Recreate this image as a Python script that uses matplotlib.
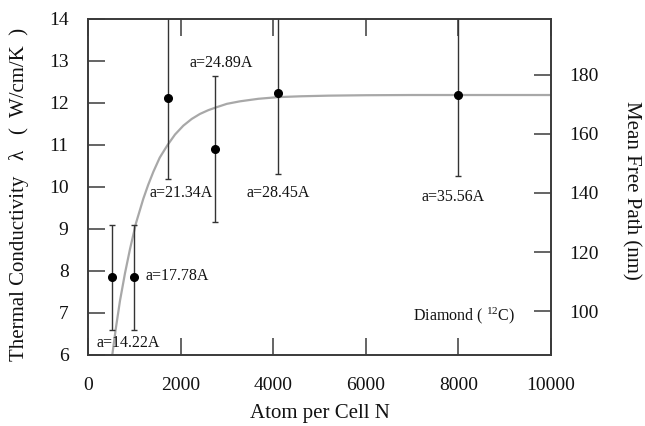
import matplotlib
matplotlib.use("Agg")
import matplotlib.pyplot as plt

plt.rcParams["font.family"] = ["Liberation Serif", "DejaVu Serif"]
plt.rcParams["mathtext.fontset"] = "custom"
plt.rcParams["mathtext.rm"] = "Liberation Serif"
plt.rcParams["mathtext.it"] = "Liberation Serif:italic"

# Simulated thermal conductivity of diamond vs. number of atoms per cell
atoms_per_cell = [512, 1000, 1728, 2744, 4096, 8000]
conductivity = [7.85, 7.85, 12.13, 10.90, 12.23, 12.20]
conductivity_err = [1.25, 1.25, 1.95, 1.74, 1.93, 1.93]
cell_labels = ["a=14.22A", "a=17.78A", "a=21.34A", "a=24.89A", "a=28.45A", "a=35.56A"]

# Saturation curve through the data
curve_n = [525, 600, 691, 800, 907, 1037, 1195, 1300, 1411, 1550, 1713, 1880,
           2059, 2240, 2419, 2600, 2779, 3000, 3283, 3679, 4110, 4600, 5200,
           6000, 7000, 8000, 10000]
curve_lambda = [6.00, 6.62, 7.29, 7.95, 8.52, 9.14, 9.72, 10.05, 10.36, 10.70,
                10.99, 11.25, 11.46, 11.62, 11.74, 11.83, 11.90, 11.98, 12.04,
                12.10, 12.14, 12.16, 12.175, 12.185, 12.19, 12.19, 12.19]

# Mean free path is proportional to conductivity (nm per W/cm/K)
mfp_per_lambda = 14.2

x_ticks = [0, 2000, 4000, 6000, 8000, 10000]
y_ticks = [6, 7, 8, 9, 10, 11, 12, 13, 14]
mfp_ticks = [100, 120, 140, 160, 180]

label_pos = [(194, 6.29), (1253, 7.87), (1318, 9.86), (2188, 12.95),
             (3413, 9.86), (7207, 9.77)]

edge = "#3a3a3a"

fig = plt.figure(figsize=(6.45, 4.26), dpi=100)
ax = fig.add_axes([0.1364, 0.1667, 0.7179, 0.7887])

ax.plot(curve_n, curve_lambda, color="#a8a8a8", lw=1.6, zorder=2)
ax.errorbar(atoms_per_cell, conductivity, yerr=conductivity_err, fmt="o",
            color="black", ms=5.5, ecolor="#333333", elinewidth=1.0,
            capsize=2.5, capthick=1.0, zorder=3)

for (lx, ly), txt in zip(label_pos, cell_labels):
    ax.text(lx, ly, txt, fontsize=11.5, ha="left", va="center", color="#111111")

ax.text(7026, 6.94, "Diamond ( $^{12}$C)", fontsize=11.5, ha="left",
        va="center", color="#111111")

ax.set_xlim(0, 10000)
ax.set_ylim(6, 14)
ax.set_xticks(x_ticks)
ax.set_yticks(y_ticks)
ax.tick_params(axis="both", direction="in", length=12, width=1.1,
               color=edge, labelsize=14, labelcolor="#111111")
ax.tick_params(axis="x", top=True, pad=16)
ax.tick_params(axis="y", pad=14)
for s in ax.spines.values():
    s.set_color(edge)
    s.set_linewidth(1.2)

ax.set_xlabel("Atom per Cell N", fontsize=15, color="#111111", va="center")
ax.xaxis.set_label_coords(0.5, -0.175)
ax.set_ylabel("Thermal Conductivity   λ   (  W/cm/K  )", fontsize=15,
              color="#111111", va="center")
ax.yaxis.set_label_coords(-0.149, 0.479)

ax2 = ax.twinx()
ax2.set_ylim(6 * mfp_per_lambda, 14 * mfp_per_lambda)
ax2.set_yticks(mfp_ticks)
ax2.tick_params(axis="y", direction="in", length=12, width=1.1, color=edge,
                labelsize=14, labelcolor="#111111", pad=13)
for s in ax2.spines.values():
    s.set_color(edge)
    s.set_linewidth(1.2)
ax2.set_ylabel("Mean Free Path (nm)", fontsize=15, rotation=270,
               color="#111111", va="center")
ax2.yaxis.set_label_coords(1.172, 0.491)

fig.savefig("out.png", dpi=100)
